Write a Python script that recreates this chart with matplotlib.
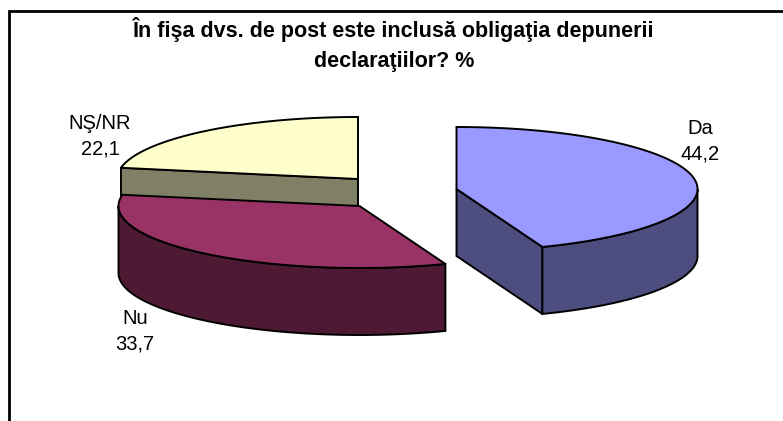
import matplotlib
matplotlib.use("Agg")
import matplotlib.pyplot as plt
from matplotlib.patches import Polygon
import numpy as np

plt.rcParams['font.family'] = ['Liberation Sans', 'DejaVu Sans']

title = "În fişa dvs. de post este inclusă obligaţia depunerii\ndeclaraţiilor? %"
categories = ["Da", "Nu", "NŞ/NR"]
values = [44.2, 33.7, 22.1]
value_labels = ["44,2", "33,7", "22,1"]
top_colors = ["#9999FF", "#993366", "#FFFFCC"]
side_colors = ["#4D4D80", "#4D1933", "#808066"]

# pixel layout of the exploded pie
centers = [(456.5, 189), (359.5, 206), (358, 179)]
label_pos = [(700, 141), (135, 331), (100, 136)]
RX = 241
RY = 62
DEPTH = 67


def ring(cx, cy, a0, a1):
    # angles in degrees, clockwise from 12 o'clock
    t = np.radians(np.linspace(a0, a1, 200))
    return np.column_stack([cx + RX * np.sin(t), cy - RY * np.cos(t)])


fig = plt.figure(figsize=(7.83, 4.21), dpi=100)
ax = fig.add_axes([0, 0, 1, 1])
ax.set_xlim(0, 783)
ax.set_ylim(421, 0)
ax.axis("off")

# chart frame, only top and left show
ax.plot([783, 9, 9], [11, 11, 421], color="black", lw=2, solid_joinstyle="miter")

edges = np.cumsum([0] + values) / sum(values) * 360
# radius whose wall faces the viewer, Nu has none
wall_angles = [edges[1], None, edges[2]]

# back slice first so the Nu top face covers its wall
for i in [2, 1, 0]:
    cx, cy = centers[i]
    a0, a1 = edges[i], edges[i + 1]
    if wall_angles[i] is not None:
        end = ring(cx, cy, wall_angles[i], wall_angles[i])[0]
        wall = [(cx, cy), end, (end[0], end[1] + DEPTH), (cx, cy + DEPTH)]
        ax.add_patch(Polygon(wall, closed=True, fc=side_colors[i], ec="black", lw=1.4))
    # outer wall, only the part facing the viewer
    s0, s1 = max(a0, 90), min(a1, 270)
    if s1 > s0:
        arc = ring(cx, cy, s0, s1)
        low = arc[::-1] + [0, DEPTH]
        ax.add_patch(Polygon(np.vstack([arc, low]), closed=True, fc=side_colors[i], ec="black", lw=1.4))
    face = np.vstack([[(cx, cy)], ring(cx, cy, a0, a1)])
    ax.add_patch(Polygon(face, closed=True, fc=top_colors[i], ec="black", lw=1.4))

for i in range(3):
    x, y = label_pos[i]
    ax.text(x, y, f"{categories[i]}\n{value_labels[i]}", ha="center", va="center",
            fontsize=14.5, linespacing=1.45, color="black")

ax.text(394, 44.5, title, ha="center", va="center", fontsize=15.5, fontweight="bold",
        linespacing=1.55, color="black")

fig.savefig("out.png", dpi=100)
